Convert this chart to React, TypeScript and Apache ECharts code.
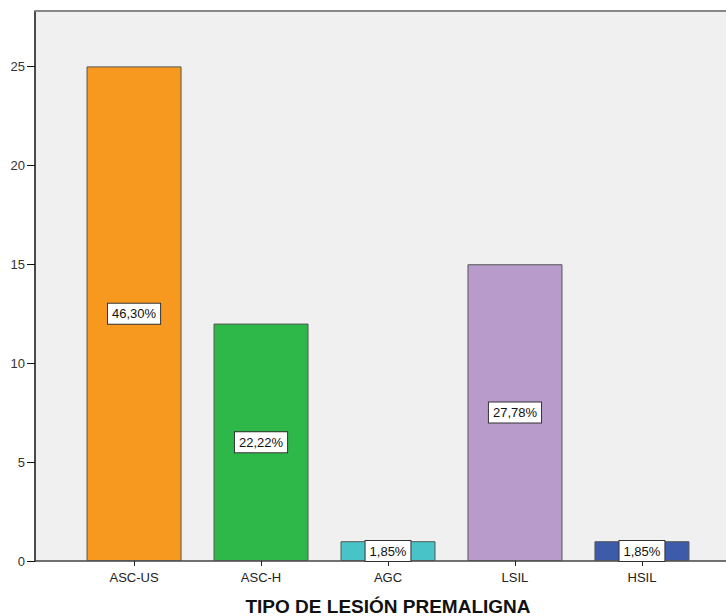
import React, { useEffect, useRef } from "react";
import * as echarts from "echarts";

const categories = ["ASC-US", "ASC-H", "AGC", "LSIL", "HSIL"];
const counts = [25, 12, 1, 15, 1];
const percentLabels = ["46,30%", "22,22%", "1,85%", "27,78%", "1,85%"];
const barColors = ["#F7981F", "#2EB84A", "#48C4C8", "#B89BCB", "#3E5BAB"];
const yTicks = [0, 5, 10, 15, 20, 25];
const xTitle = "TIPO DE LESIÓN PREMALIGNA";

const FONT = "'Liberation Sans', Arial, sans-serif";

export default function App() {
  const ref = useRef<HTMLDivElement>(null);
  useEffect(() => {
    if (!ref.current) return;
    const chart = echarts.init(ref.current, undefined, { renderer: "svg" });
    const idx = categories.map((_, i) => i);
    chart.setOption({
      animation: false,
      grid: {
        left: 35,
        top: 11,
        width: 706,
        bottom: 55,
        outerBoundsMode: "none",
        containLabel: false,
        backgroundColor: "#F0F0F0",
        show: true,
        borderWidth: 0,
      },
      graphic: [
        {
          type: "line",
          shape: { x1: 35, y1: 11, x2: 726, y2: 11 },
          style: { stroke: "#888888", lineWidth: 2 },
          z: 10,
        },
      ],
      xAxis: {
        type: "value",
        min: -0.78,
        max: 4.78,
        splitLine: { show: false },
        axisLine: { show: true, onZero: false, lineStyle: { color: "#444444", width: 1.5 } },
        axisTick: { show: true, customValues: idx, length: 5, lineStyle: { color: "#222222" } },
        axisLabel: {
          customValues: idx,
          formatter: (v: number) => categories[Math.round(v)] ?? "",
          color: "#222222",
          fontSize: 13,
          fontFamily: FONT,
          margin: 10,
        },
        name: xTitle,
        nameLocation: "middle",
        nameGap: 36,
        nameTextStyle: { fontSize: 19, lineHeight: 18, fontWeight: "bold", color: "#111111", fontFamily: FONT },
      },
      yAxis: {
        type: "value",
        min: 0,
        max: 27.8,
        splitLine: { show: false },
        axisLine: { show: true, onZero: false, lineStyle: { color: "#111111", width: 1.5 } },
        axisTick: { show: true, customValues: yTicks, length: 8, lineStyle: { color: "#111111" } },
        axisLabel: {
          customValues: yTicks,
          color: "#333333",
          fontSize: 13,
          fontFamily: FONT,
          margin: 10,
        },
      },
      series: [
        {
          type: "bar",
          barWidth: 95,
          data: counts.map((v, i) => ({
            value: [i, v],
            itemStyle: { color: barColors[i], borderColor: "#555555", borderWidth: 1 },
          })),
          label: {
            show: true,
            position: "inside",
            formatter: (p: any) => percentLabels[p.dataIndex],
            color: "#111111",
            fontSize: 13,
            fontFamily: FONT,
            backgroundColor: "#FFFFFF",
            borderColor: "#333333",
            borderWidth: 1,
            padding: [4, 4, 3, 4],
          },
        },
      ],
    });
    return () => chart.dispose();
  }, []);
  return <div ref={ref} style={{ width: 726, height: 616, position: "absolute", left: 0, top: 0 }} />;
}
